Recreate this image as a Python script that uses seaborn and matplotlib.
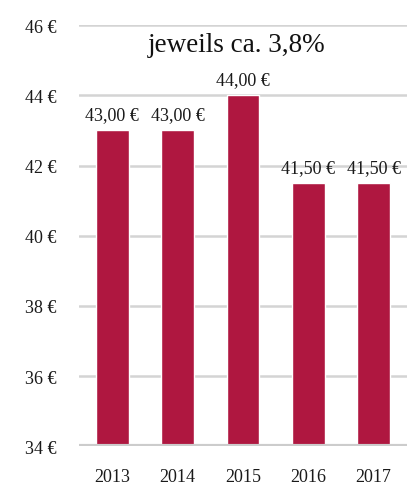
import matplotlib
matplotlib.use("Agg")
import matplotlib.pyplot as plt
import seaborn as sns
import pandas as pd

years = ["2013", "2014", "2015", "2016", "2017"]
prices = [43.00, 43.00, 44.00, 41.50, 41.50]
yticks = [34, 36, 38, 40, 42, 44, 46]
title_text = "jeweils ca. 3,8%"

sns.set_style("white")
plt.rcParams["font.family"] = ["Liberation Serif", "DejaVu Serif"]

df = pd.DataFrame({"Jahr": years, "Preis": prices})

fig = plt.figure(figsize=(4.09, 4.85), dpi=100)
ax = fig.add_axes([0.193, 0.078, 0.802, 0.868])

bar_color = "#AF1740"
sns.barplot(data=df, x="Jahr", y="Preis", color=bar_color, width=0.5,
            saturation=1, ax=ax, zorder=3)

ax.set_ylim(34, 46)
ax.set_xlim(-0.51, 4.51)
ax.set_yticks(yticks)
ax.set_yticklabels([f"{v} €" for v in yticks])
for v in yticks[1:]:
    ax.axhline(v, color="#d4d4d4", lw=1.8, zorder=1)
ax.axhline(34, color="#cccccc", lw=3, zorder=4)

for s in ax.spines.values():
    s.set_visible(False)
ax.set_xlabel("")
ax.set_ylabel("")
ax.tick_params(axis="y", length=0, pad=16, labelsize=13, labelcolor="#1a1a1a")
ax.tick_params(axis="x", length=0, pad=16, labelsize=13, labelcolor="#1a1a1a")

for i, v in enumerate(prices):
    ax.text(i, v + 0.2, f"{v:.2f}".replace(".", ",") + " €", ha="center",
            va="bottom", fontsize=13, color="#1a1a1a", zorder=5)

ax.text(-0.51 + 0.48 * 5.02, 45.45, title_text, ha="center", va="center",
        fontsize=19.5, color="#111111")

fig.savefig("out.png", dpi=100, facecolor="white")
